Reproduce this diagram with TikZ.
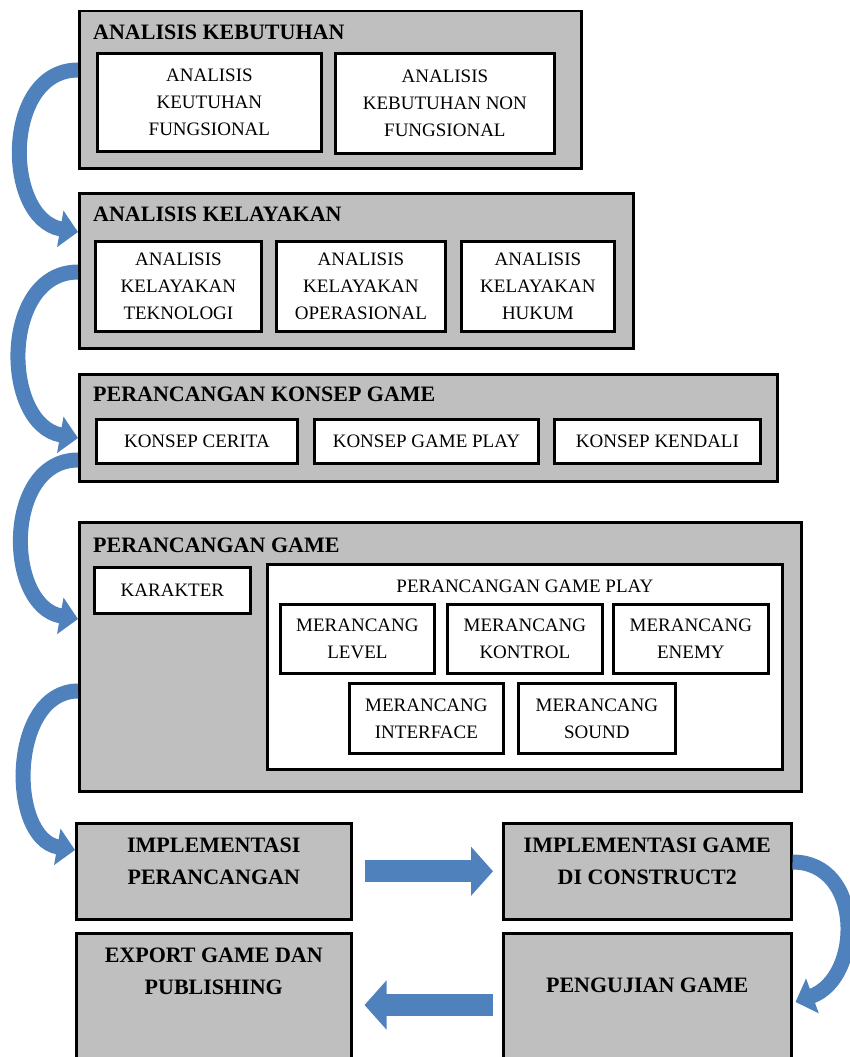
\documentclass[tikz,border=0pt]{standalone}
\usepackage{fontspec}
\setmainfont{Liberation Serif}
\usetikzlibrary{arrows.meta,positioning}

\definecolor{boxgray}{HTML}{BFBFBF}
\definecolor{arrowblue}{HTML}{4F81BD}

\begin{document}
\begin{tikzpicture}[x=1pt, y=1pt,
	stage/.style={draw=black, line width=2.5pt, fill=boxgray, anchor=north west, inner sep=0pt},
	sub/.style={draw=black, line width=2.8pt, fill=white, anchor=north west, align=center, inner sep=0pt, font=\fontsize{19}{27}\selectfont},
	head/.style={anchor=north west, inner sep=0pt, font=\bfseries\fontsize{22}{26}\selectfont},
	flowtext/.style={anchor=north, inner sep=0pt, align=center, font=\bfseries\fontsize{22}{32}\selectfont},
	curvearrow/.style={draw=arrowblue, line width=15pt, -{Triangle[length=18pt,width=36pt]}},
	blockarrow/.style={draw=arrowblue, line width=22pt, -{Triangle[length=22pt,width=48pt]}}]
	\useasboundingbox (0,0) rectangle (850,-1057);
	\clip (0,0) rectangle (850,-1057);

	% analisis kebutuhan
	\node[stage, minimum width=502pt, minimum height=157pt] (kebutuhan) at (78,-10) {};
	\node[head] (kebutuhan-t) at ([xshift=15pt,yshift=-15pt]kebutuhan.north west) {ANALISIS KEBUTUHAN};
	\node[sub, minimum width=224pt, minimum height=98pt] (fungsional) at (96,-52) {ANALISIS\\KEUTUHAN\\FUNGSIONAL};
	\node[sub, minimum width=219pt, minimum height=100pt] (nonfungsional) at (334,-52) {ANALISIS\\KEBUTUHAN NON\\FUNGSIONAL};

	% analisis kelayakan
	\node[stage, minimum width=554pt, minimum height=155pt] (kelayakan) at (78,-192) {};
	\node[head] (kelayakan-t) at ([xshift=15pt,yshift=-15pt]kelayakan.north west) {ANALISIS KELAYAKAN};
	\node[sub, minimum width=166pt, minimum height=90pt] (teknologi) at (94,-240) {ANALISIS\\KELAYAKAN\\TEKNOLOGI};
	\node[sub, minimum width=169pt, minimum height=90pt] (operasional) at (275,-240) {ANALISIS\\KELAYAKAN\\OPERASIONAL};
	\node[sub, minimum width=153pt, minimum height=90pt] (hukum) at (460,-240) {ANALISIS\\KELAYAKAN\\HUKUM};

	% perancangan konsep game
	\node[stage, minimum width=698pt, minimum height=107pt] (konsep) at (78,-373) {};
	\node[head] (konsep-t) at ([xshift=15pt,yshift=-14pt]konsep.north west) {PERANCANGAN KONSEP GAME};
	\node[sub, minimum width=201pt, minimum height=44pt] (cerita) at (95,-418) {KONSEP CERITA};
	\node[sub, minimum width=224pt, minimum height=44pt] (gameplay) at (313,-418) {KONSEP GAME PLAY};
	\node[sub, minimum width=206pt, minimum height=44pt] (kendali) at (553,-418) {KONSEP KENDALI};

	% perancangan game
	\node[stage, minimum width=722pt, minimum height=269pt] (game) at (78,-521) {};
	\node[head] (game-t) at ([xshift=15pt,yshift=-17pt]game.north west) {PERANCANGAN GAME};
	\node[sub, minimum width=156pt, minimum height=46pt] (karakter) at (93,-566) {KARAKTER};
	\node[sub, minimum width=515pt, minimum height=205pt] (rancangplay) at (266,-563) {};
	\node[anchor=north, inner sep=0pt, font=\fontsize{19}{27}\selectfont] (rancangplay-t) at ([yshift=-17pt]rancangplay.north) {PERANCANGAN GAME PLAY};
	\node[sub, minimum width=154pt, minimum height=69pt] (level) at (279,-603) {MERANCANG\\LEVEL};
	\node[sub, minimum width=155pt, minimum height=69pt] (kontrol) at (446,-603) {MERANCANG\\KONTROL};
	\node[sub, minimum width=155pt, minimum height=69pt] (enemy) at (612,-603) {MERANCANG\\ENEMY};
	\node[sub, minimum width=154pt, minimum height=70pt] (interface) at (348,-682) {MERANCANG\\INTERFACE};
	\node[sub, minimum width=157pt, minimum height=70pt] (sound) at (517,-682) {MERANCANG\\SOUND};

	% tahap akhir
	\node[stage, minimum width=275pt, minimum height=96pt] (implrancang) at (75,-822) {};
	\node[flowtext] (implrancang-t) at ([yshift=-16pt]implrancang.north) {IMPLEMENTASI\\PERANCANGAN};
	\node[stage, minimum width=288pt, minimum height=96pt] (implgame) at (502,-822) {};
	\node[flowtext] (implgame-t) at ([yshift=-16pt]implgame.north) {IMPLEMENTASI GAME\\DI CONSTRUCT2};
	\node[stage, minimum width=275pt, minimum height=146pt] (export) at (75,-932) {};
	\node[flowtext] (export-t) at ([yshift=-16pt]export.north) {EXPORT GAME DAN\\PUBLISHING};
	\node[stage, minimum width=288pt, minimum height=146pt] (uji) at (502,-932) {};
	\node[flowtext] (uji-t) at ([yshift=-46pt]uji.north) {PENGUJIAN GAME};

	% panah
	\draw[curvearrow] ([yshift=-60pt]kebutuhan.north west) to[out=180, in=170, looseness=1.2] ([yshift=-40pt]kelayakan.north west);
	\draw[curvearrow] ([yshift=-80pt]kelayakan.north west) to[out=180, in=170, looseness=1.2] ([yshift=-65pt]konsep.north west);
	\draw[curvearrow] ([yshift=-87pt]konsep.north west) to[out=180, in=170, looseness=1.2] ([yshift=-98pt]game.north west);
	\draw[curvearrow] ([yshift=-170pt]game.north west) to[out=180, in=170, looseness=1.1] ([yshift=-28pt]implrancang.north west);
	\draw[blockarrow] ([xshift=12pt]implrancang.east) -- ([xshift=-9pt]implgame.west);
	\draw[curvearrow] ([yshift=-40pt]implgame.north east) to[out=0, in=20, looseness=1.3] ([xshift=3pt,yshift=-70pt]uji.north east);
	\draw[blockarrow] ([xshift=-9pt,yshift=-73pt]uji.north west) -- ([xshift=12pt,yshift=-73pt]export.north east);
\end{tikzpicture}
\end{document}
